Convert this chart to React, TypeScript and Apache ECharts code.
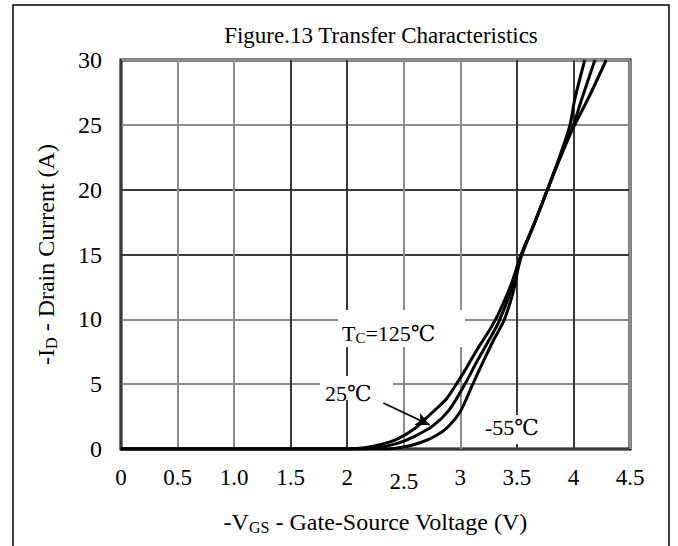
import React, { useEffect, useRef } from "react";
import * as echarts from "echarts";

const xTickLabels = ["0", "0.5", "1.0", "1.5", "2", "2.5", "3", "3.5", "4", "4.5"];
const yTickLabels = ["0", "5", "10", "15", "20", "25", "30"];

// [-VGS (V), -ID (A)]
const curve125: [number, number][] = [
  [0, 0], [2.0, 0], [2.15, 0.1], [2.3, 0.35], [2.45, 0.8], [2.6, 1.6], [2.7, 2.4],
  [2.8, 3.2], [2.88, 3.9], [2.95, 4.8], [3.05, 6.2], [3.15, 7.7], [3.26, 9.2],
  [3.33, 10.3], [3.45, 12.7], [3.53, 14.8], [3.65, 17.3], [3.77, 20], [3.88, 22.4],
  [4.0, 24.8], [4.14, 27.2], [4.29, 30],
];
const curve25: [number, number][] = [
  [0, 0], [2.15, 0], [2.3, 0.15], [2.45, 0.45], [2.6, 1.0], [2.76, 1.8], [2.9, 3.0],
  [3.04, 5.0], [3.15, 6.8], [3.26, 8.5], [3.34, 9.8], [3.45, 12.3], [3.53, 14.8],
  [3.65, 17.3], [3.77, 20], [3.88, 22.5], [4.0, 25], [4.07, 26.9], [4.19, 30],
];
const curveM55: [number, number][] = [
  [0, 0], [2.35, 0], [2.5, 0.15], [2.65, 0.5], [2.78, 1.0], [2.89, 1.7], [3.0, 2.9],
  [3.11, 5.0], [3.2, 6.7], [3.3, 8.5], [3.39, 10.0], [3.47, 12.2], [3.53, 14.6],
  [3.65, 17.3], [3.77, 20], [3.88, 22.6], [3.97, 25], [4.01, 26.9], [4.1, 30],
];
// arrow from the "25℃" label to the 25℃ curve
const arrowFrom: [number, number] = [2.32, 3.55];
const arrowTo: [number, number] = [2.73, 1.85];

const FONT = "'Liberation Serif', 'Times New Roman', 'DejaVu Serif', serif";
const DARK = "#3a3a3a";
const GRAY = "#8c8c8c";

export default function App() {
  const ref = useRef<HTMLDivElement>(null);
  useEffect(() => {
    if (!ref.current) return;
    const chart = echarts.init(ref.current, undefined, { renderer: "svg" });
    const lineSeries = (name: string, data: [number, number][], extra: any = {}) => ({
      name,
      type: "line",
      data,
      smooth: 0.3,
      showSymbol: false,
      symbol: "none",
      lineStyle: { color: "#000", width: 3 },
      z: 3,
      ...extra,
    });
    chart.setOption({
      animation: false,
      backgroundColor: "#fff",
      textStyle: { fontFamily: FONT, color: "#000" },
      title: {
        text: "Figure.13 Transfer Characteristics",
        left: 376,
        top: 19,
        textAlign: "center",
        textStyle: { fontFamily: FONT, fontSize: 23, fontWeight: "normal", color: "#000" },
      },
      grid: {
        left: 121,
        right: 48,
        top: 60,
        bottom: 97,
        show: true,
        borderColor: "#000",
        borderWidth: 3,
        backgroundColor: "transparent",
      },
      xAxis: {
        type: "value",
        min: 0,
        max: 4.5,
        interval: 0.5,
        axisLine: { show: false },
        axisTick: { show: false },
        splitLine: { show: true, lineStyle: { color: [DARK, GRAY, GRAY, DARK], width: 2 } },
        axisLabel: {
          margin: 17,
          color: "#000",
          fontFamily: FONT,
          fontSize: 23,
          formatter: (v: number) => {
            const lbl = xTickLabels[Math.round(v / 0.5)];
            return v === 2.5 ? `{low|${lbl}}` : `{n|${lbl}}`;
          },
          rich: {
            n: { fontFamily: FONT, fontSize: 23, color: "#000" },
            low: { fontFamily: FONT, fontSize: 23, color: "#000", padding: [4, 0, 0, 0] },
          },
        },
        name: "{a|-V}{sub|GS}{a| - Gate-Source Voltage (V)}",
        nameLocation: "middle",
        nameGap: 60,
        nameTextStyle: {
          rich: {
            a: { fontFamily: FONT, fontSize: 24, color: "#000" },
            sub: { fontFamily: FONT, fontSize: 16, color: "#000", padding: [10, 0, 0, 0] },
          },
        },
      },
      yAxis: {
        type: "value",
        min: 0,
        max: 30,
        interval: 5,
        axisLine: { show: false },
        axisTick: { show: false },
        splitLine: { show: true, lineStyle: { color: [DARK, GRAY, GRAY, DARK], width: 2 } },
        axisLabel: {
          margin: 19,
          color: "#000",
          fontFamily: FONT,
          fontSize: 24,
          formatter: (v: number) => yTickLabels[Math.round(v / 5)],
        },
        name: "{a|-I}{sub|D}{a| - Drain Current (A)}",
        nameLocation: "middle",
        nameGap: 62,
        nameTextStyle: {
          rich: {
            a: { fontFamily: FONT, fontSize: 24, color: "#000" },
            sub: { fontFamily: FONT, fontSize: 16, color: "#000", padding: [10, 0, 0, 0] },
          },
        },
      },
      series: [
        lineSeries("125℃", curve125),
        lineSeries("25℃", curve25, {
          markLine: {
            silent: true,
            symbol: ["none", "arrow"],
            symbolSize: [10, 14],
            label: { show: false },
            lineStyle: { color: "#000", width: 1.8, type: "solid" },
            data: [[{ coord: arrowFrom }, { coord: arrowTo }]],
          },
        }),
        lineSeries("-55℃", curveM55),
      ],
      graphic: [
        {
          type: "rect",
          shape: { x: 13, y: 5, width: 656, height: 560 },
          style: { fill: "none", stroke: "#000", lineWidth: 1.5 },
          silent: true,
          z: 10,
        },
        { type: "rect", shape: { x: 338, y: 310, width: 127, height: 37 }, style: { fill: "#fff" }, z: 5 },
        { type: "rect", shape: { x: 320, y: 376, width: 73, height: 24 }, style: { fill: "#fff" }, z: 5 },
        { type: "rect", shape: { x: 483, y: 415, width: 59, height: 29 }, style: { fill: "#fff" }, z: 5 },
        {
          type: "text",
          x: 342,
          y: 333,
          z: 6,
          style: {
            text: "{a|T}{sub|C}{a|=125℃}",
            verticalAlign: "middle",
            rich: {
              a: { fontFamily: FONT, fontSize: 22, fill: "#000" },
              sub: { fontFamily: FONT, fontSize: 15, fill: "#000", padding: [10, 0, 0, 0] },
            },
          },
        },
        {
          type: "text",
          x: 325,
          y: 393,
          z: 6,
          style: { text: "25℃", fontFamily: FONT, fontSize: 22, fill: "#000", verticalAlign: "middle" },
        },
        {
          type: "text",
          x: 485,
          y: 427,
          z: 6,
          style: { text: "-55℃", fontFamily: FONT, fontSize: 22, fill: "#000", verticalAlign: "middle" },
        },
      ],
    });
    return () => chart.dispose();
  }, []);
  return <div ref={ref} style={{ width: 678, height: 546, position: "absolute", left: 0, top: 0 }} />;
}
